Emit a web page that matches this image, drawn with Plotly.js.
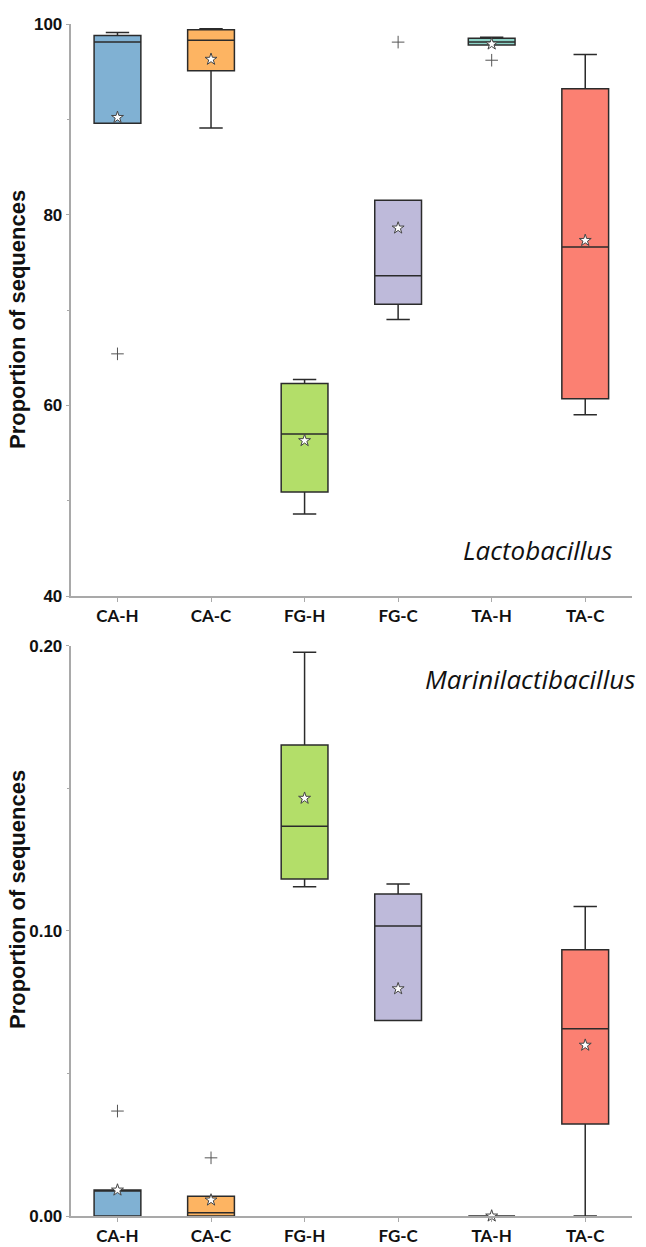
<!DOCTYPE html>
<html>
<head>
<meta charset="utf-8">
<script src="https://cdn.plot.ly/plotly-3.0.1.min.js"></script>
<style>
  html, body { margin: 0; padding: 0; background: #ffffff; }
  #chart { width: 646px; height: 1247px; }
</style>
</head>
<body>
<div id="chart"></div>
<script>
// ---------------- data ----------------
const categories = ['CA-H', 'CA-C', 'FG-H', 'FG-C', 'TA-H', 'TA-C'];
const boxColors = ['#80b1d3', '#fdb462', '#b3de69', '#bebada', '#8dd3c7', '#fb8072'];

// Lactobacillus (top panel)
const lactoLower  = [89.6, 89.1, 48.6, 69.0, 97.8, 59.0];
const lactoQ1     = [89.6, 95.1, 50.9, 70.6, 97.8, 60.7];
const lactoMedian = [98.1, 98.3, 57.0, 73.6, 98.1, 76.6];
const lactoQ3     = [98.8, 99.4, 62.3, 81.5, 98.5, 93.2];
const lactoUpper  = [99.1, 99.5, 62.7, 81.5, 98.6, 96.8];
const lactoMean   = [90.2, 96.3, 56.3, 78.6, 97.9, 77.3];
const lactoOutlierCat = ['CA-H', 'FG-C', 'TA-H'];
const lactoOutlierVal = [65.4, 98.1, 96.2];

// Marinilactibacillus (bottom panel)
const mariLower  = [0.0, 0.0, 0.1155, 0.0686, 0.0, 0.0];
const mariQ1     = [0.0, 0.0, 0.1182, 0.0686, 0.0, 0.0323];
const mariMedian = [0.0091, 0.0011, 0.1367, 0.1017, 0.0, 0.0657];
const mariQ3     = [0.0091, 0.0069, 0.1652, 0.1129, 0.0, 0.0934];
const mariUpper  = [0.0091, 0.0069, 0.1977, 0.1164, 0.0, 0.1085];
const mariMean   = [0.0091, 0.0056, 0.1465, 0.0797, 0.0, 0.0599];
const mariOutlierCat = ['CA-H', 'CA-C'];
const mariOutlierVal = [0.0368, 0.0204];

const topTicks = [40, 60, 80, 100];
const bottomTicks = [0, 0.1, 0.2];
const bottomTickText = ['0.00', '0.10', '0.20'];

// ---------------- build traces ----------------
const traces = [];
function addBoxes(lower, q1, med, q3, upper, xa, ya) {
  categories.forEach((c, i) => {
    traces.push({
      type: 'box',
      x: [c],
      lowerfence: [lower[i]],
      q1: [q1[i]],
      median: [med[i]],
      q3: [q3[i]],
      upperfence: [upper[i]],
      xaxis: xa, yaxis: ya,
      fillcolor: boxColors[i],
      line: { color: '#2b2b2b', width: 1.5 },
      width: 0.5,
      whiskerwidth: 0.5,
      boxpoints: false,
      hoverinfo: 'skip'
    });
  });
}
addBoxes(lactoLower, lactoQ1, lactoMedian, lactoQ3, lactoUpper, 'x', 'y');
addBoxes(mariLower, mariQ1, mariMedian, mariQ3, mariUpper, 'x2', 'y2');

function addMarks(means, outCat, outVal, xa, ya) {
  traces.push({
    type: 'scatter', mode: 'markers',
    x: categories, y: means, xaxis: xa, yaxis: ya,
    cliponaxis: false,
    marker: { symbol: 'star', size: 9, color: '#ffffff', line: { color: '#444444', width: 1 } },
    hoverinfo: 'skip'
  });
  traces.push({
    type: 'scatter', mode: 'markers',
    x: outCat, y: outVal, xaxis: xa, yaxis: ya,
    cliponaxis: false,
    marker: { symbol: 'cross-thin-open', size: 9, color: '#555555', line: { color: '#555555', width: 1 } },
    hoverinfo: 'skip'
  });
}
addMarks(lactoMean, lactoOutlierCat, lactoOutlierVal, 'x', 'y');
addMarks(mariMean, mariOutlierCat, mariOutlierVal, 'x2', 'y2');

// ---------------- layout ----------------
const W = 646, H = 1247;
const px = v => v / W;
const py = v => 1 - v / H;

const axisLine = '#a9a9a9';
const xTickFont = { family: 'Lato, Liberation Sans, sans-serif', size: 17, color: '#111111', weight: 'bold' };
const yTickFont = { family: 'Liberation Sans Narrow, Liberation Sans, sans-serif', size: 17, color: '#111111', weight: 'bold' };

function xAxis(anchor) {
  return {
    anchor: anchor,
    domain: [px(70.7), px(632)],
    type: 'category',
    categoryorder: 'array',
    categoryarray: categories,
    range: [-0.5, 5.5],
    showline: true, linecolor: axisLine, linewidth: 2,
    ticks: 'outside', ticklen: 4, tickcolor: axisLine, tickwidth: 1,
    showgrid: false, zeroline: false,
    tickfont: xTickFont,
    automargin: false,
    fixedrange: true
  };
}

const layout = {
  width: W, height: H,
  margin: { l: 0, r: 0, t: 0, b: 0, pad: 0 },
  paper_bgcolor: '#ffffff',
  plot_bgcolor: '#ffffff',
  showlegend: false,
  boxmode: 'overlay',
  xaxis: xAxis('y'),
  xaxis2: xAxis('y2'),
  yaxis: {
    anchor: 'x',
    domain: [py(596), py(24)],
    range: [40, 100],
    tickvals: topTicks,
    showline: true, linecolor: axisLine, linewidth: 2,
    ticks: 'outside', ticklen: 3, tickcolor: axisLine,
    minor: { tickvals: [50, 70, 90], ticks: 'outside', ticklen: 2, tickcolor: axisLine },
    showgrid: false, zeroline: false,
    tickfont: yTickFont,
    automargin: false, fixedrange: true
  },
  yaxis2: {
    anchor: 'x2',
    domain: [py(1216), py(645.7)],
    range: [0, 0.2],
    tickvals: bottomTicks,
    ticktext: bottomTickText,
    showline: true, linecolor: axisLine, linewidth: 2,
    ticks: 'outside', ticklen: 3, tickcolor: axisLine,
    minor: { tickvals: [0.05, 0.15], ticks: 'outside', ticklen: 2, tickcolor: axisLine },
    showgrid: false, zeroline: false,
    tickfont: yTickFont,
    automargin: false, fixedrange: true
  },
  annotations: [
    {
      text: 'Proportion of sequences', xref: 'paper', yref: 'paper',
      x: px(17), y: py(320), xanchor: 'center', yanchor: 'middle',
      textangle: -90, showarrow: false,
      font: { family: 'Liberation Sans, Arial, sans-serif', size: 22, color: '#111111', weight: 'bold' }
    },
    {
      text: 'Proportion of sequences', xref: 'paper', yref: 'paper',
      x: px(17), y: py(900), xanchor: 'center', yanchor: 'middle',
      textangle: -90, showarrow: false,
      font: { family: 'Liberation Sans, Arial, sans-serif', size: 22, color: '#111111', weight: 'bold' }
    },
    {
      text: 'Lactobacillus', xref: 'paper', yref: 'paper',
      x: px(615), y: py(550), xanchor: 'right', yanchor: 'middle',
      showarrow: false,
      font: { family: 'Open Sans, sans-serif', size: 26, color: '#111111', style: 'italic' }
    },
    {
      text: 'Marinilactibacillus', xref: 'paper', yref: 'paper',
      x: px(637), y: py(679), xanchor: 'right', yanchor: 'middle',
      showarrow: false,
      font: { family: 'Open Sans, sans-serif', size: 26, color: '#111111', style: 'italic' }
    }
  ]
};

Plotly.newPlot('chart', traces, layout, { displayModeBar: false, staticPlot: true });
</script>
</body>
</html>
